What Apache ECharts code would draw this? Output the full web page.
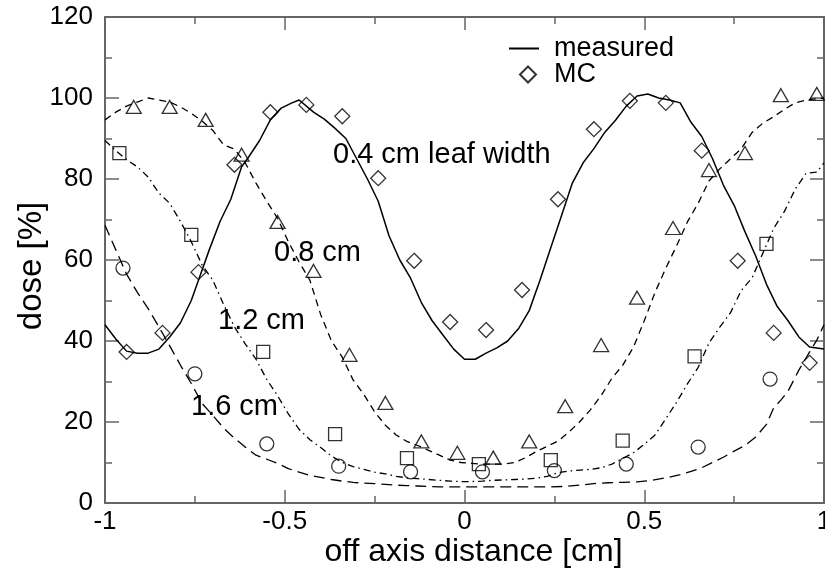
<!DOCTYPE html>
<html>
<head>
<meta charset="utf-8">
<script src="https://cdn.jsdelivr.net/npm/echarts@6/dist/echarts.min.js"></script>
<style>html,body{margin:0;padding:0;background:#fff}#c{width:825px;height:569px}</style>
</head>
<body>
<div id="c"></div>
<script>
// ---- data ----
const xTickLabels = ['-1', '-0.5', '0', '0.5', '1'];
const yTickLabels = ['0', '20', '40', '60', '80', '100', '120'];

// measured profiles
const meas04X = [-1,-0.97,-0.94,-0.91,-0.88,-0.85,-0.82,-0.79,-0.76,-0.74,-0.71,-0.68,-0.65,-0.62,-0.6,-0.57,-0.54,-0.51,-0.48,-0.46,-0.42,-0.39,-0.36,-0.33,-0.3,-0.27,-0.24,-0.21,-0.18,-0.15,-0.12,-0.09,-0.06,-0.03,0,0.03,0.06,0.09,0.12,0.15,0.18,0.21,0.24,0.27,0.3,0.33,0.36,0.39,0.42,0.45,0.48,0.51,0.54,0.57,0.6,0.63,0.66,0.69,0.72,0.75,0.78,0.81,0.84,0.87,0.9,0.93,0.96,1];
const meas04Y = [44,40.5,37.5,37,37,38,41,44.5,50,55,62.5,69.5,75,83,85.5,89.5,94.6,97.5,98.8,99.5,96.5,94.8,92.5,90,85,80,74.5,66,60,55.5,49.5,45,41.5,38,35.5,35.5,37,38.3,40,43,47.5,55,63,71,79,84,87.5,91.5,94.5,98,100.5,101,100,99.5,98.8,94,90.5,85,78.5,73.5,67,61,54,48.5,45,41,38.5,38];

const meas08X = [-1,-0.97,-0.94,-0.91,-0.88,-0.85,-0.82,-0.79,-0.76,-0.73,-0.7,-0.67,-0.64,-0.61,-0.58,-0.55,-0.52,-0.49,-0.46,-0.43,-0.4,-0.37,-0.34,-0.31,-0.28,-0.25,-0.22,-0.19,-0.16,-0.13,-0.1,-0.07,-0.04,-0.01,0.02,0.05,0.08,0.11,0.14,0.17,0.2,0.23,0.26,0.29,0.32,0.35,0.38,0.41,0.44,0.47,0.5,0.53,0.56,0.59,0.62,0.65,0.68,0.71,0.74,0.77,0.8,0.83,0.86,0.89,0.92,0.95,0.98,1];
const meas08Y = [94.6,96.5,98,99,100,99.5,99,97.8,96.2,94.3,92,88.4,87.4,84,79,74.5,70.3,64.5,59.5,55,46.5,40,36,30.4,26.8,22.5,19.2,16.8,15.2,14.2,13,11.8,10.6,10,9.8,9.6,9.6,9.6,10,11.2,12.7,14,15.3,17.5,20,23,26.5,30.8,34,38.5,45,52,58,63.5,69.4,74,79.5,82.5,85,87.5,91.5,93.8,95.4,97.2,98.8,99.5,99.8,100];

const meas12X = [-1,-0.97,-0.94,-0.91,-0.88,-0.85,-0.82,-0.79,-0.76,-0.73,-0.7,-0.67,-0.64,-0.61,-0.58,-0.55,-0.52,-0.49,-0.46,-0.43,-0.4,-0.37,-0.34,-0.31,-0.28,-0.25,-0.22,-0.19,-0.16,-0.13,-0.1,-0.07,-0.04,-0.01,0.02,0.05,0.08,0.11,0.14,0.17,0.2,0.23,0.26,0.29,0.32,0.35,0.38,0.41,0.44,0.47,0.5,0.53,0.56,0.59,0.62,0.65,0.68,0.71,0.74,0.77,0.8,0.83,0.86,0.89,0.92,0.95,0.98,1];
const meas12Y = [89.5,87,84.8,83,80.5,76.5,74,69.5,64.5,58.8,55,49,43.5,39.3,35.5,30.5,26.5,22,18.2,15.6,13.7,11.6,10,9,8.3,7.6,7.2,6.6,6.2,6,5.8,5.6,5.4,5.3,5.3,5.4,5.6,5.7,5.8,5.9,6.1,6.6,7.5,7.9,8.1,8.3,8.7,9.6,11,12.4,14.5,16.8,20.8,24.9,29.4,33.5,39.5,43.4,47,52.5,55.6,61.7,67.8,72,77.5,81.4,81.7,84];

const meas16X = [-1,-0.97,-0.94,-0.91,-0.88,-0.85,-0.82,-0.79,-0.76,-0.73,-0.7,-0.67,-0.64,-0.61,-0.58,-0.55,-0.52,-0.49,-0.46,-0.43,-0.4,-0.37,-0.34,-0.31,-0.28,-0.25,-0.22,-0.19,-0.16,-0.13,-0.1,-0.07,-0.04,0,0.04,0.08,0.12,0.16,0.2,0.24,0.28,0.32,0.36,0.4,0.44,0.48,0.52,0.56,0.6,0.63,0.66,0.69,0.72,0.75,0.78,0.81,0.84,0.86,0.88,0.9,0.93,0.96,0.98,1];
const meas16Y = [68.6,62.5,56.5,52,48,43.5,38.8,34,29.5,24.6,21.6,18.5,16,13.8,11.8,10.8,9.8,8.5,7.6,6.8,6.3,5.8,5.4,5.1,4.9,4.8,4.6,4.4,4.3,4.2,4.1,4,4,4,4,4,4,4,4,4,4.1,4.4,4.8,5,5.1,5.2,5.6,6.2,7,7.8,8.7,10,11.3,12.8,14.2,16.3,19.4,23.5,25.4,27.6,32.8,37.3,40.2,44];

// Monte Carlo points
const mc04X = [-0.94,-0.84,-0.74,-0.64,-0.54,-0.44,-0.34,-0.24,-0.14,-0.04,0.06,0.16,0.26,0.36,0.46,0.56,0.66,0.76,0.86,0.96];
const mc04Y = [37.3,42,57,83.5,96.5,98.3,95.5,80.2,59.8,44.7,42.7,52.6,75,92.3,99.3,98.8,87,59.8,42,34.6];

const mc08X = [-0.92,-0.82,-0.72,-0.62,-0.52,-0.42,-0.32,-0.22,-0.12,-0.02,0.08,0.18,0.28,0.38,0.48,0.58,0.68,0.78,0.88,0.98];
const mc08Y = [97.8,97.8,94.6,86,69.4,57.3,36.6,24.7,15.2,12.4,11.2,15.2,23.9,39,50.7,67.9,82.2,86.4,100.7,101];

const mc12X = [-0.96,-0.76,-0.56,-0.36,-0.16,0.04,0.24,0.44,0.64,0.84];
const mc12Y = [86.4,66.2,37.3,17,11.1,9.6,10.6,15.4,36.2,64];

const mc16X = [-0.95,-0.75,-0.55,-0.35,-0.15,0.05,0.25,0.45,0.65,0.85];
const mc16Y = [58,31.9,14.6,9.1,7.7,7.7,8,9.6,13.8,30.6];

// ---- chart ----
const FONT = '"Liberation Sans", Arial, Helvetica, sans-serif';
const zip = (xs, ys) => xs.map((x, i) => [x, ys[i]]);
const AX = '#666';

function lineSeries(name, xs, ys, type, width) {
  return {
    name, type: 'line', data: zip(xs, ys), symbol: 'none', showSymbol: false,
    lineStyle: { color: '#000', width: width, type: type },
    itemStyle: { color: '#000' }, z: 3, silent: true
  };
}
function mcSeries(name, xs, ys, symbol, size) {
  return {
    name, type: 'scatter', data: zip(xs, ys), symbol, symbolSize: size,
    itemStyle: { color: 'rgba(0,0,0,0)', borderColor: '#000', borderWidth: 1.3 },
    z: 4, silent: true
  };
}

const baseX = {
  type: 'value', min: -1, max: 1, interval: 0.5,
  axisLine: { show: true, onZero: false, lineStyle: { color: AX, width: 2 } },
  axisTick: { show: true, inside: true, length: 13, lineStyle: { color: AX, width: 1.5 } },
  minorTick: { show: true, splitNumber: 2, length: 7, lineStyle: { color: AX, width: 1.5 } },
  splitLine: { show: false }, minorSplitLine: { show: false }
};
const baseY = {
  type: 'value', min: 0, max: 120, interval: 20,
  axisLine: { show: true, onZero: false, lineStyle: { color: AX, width: 2 } },
  axisTick: { show: true, inside: true, length: 14, lineStyle: { color: AX, width: 1.5 } },
  minorTick: { show: true, splitNumber: 2, length: 7, lineStyle: { color: AX, width: 1.5 } },
  splitLine: { show: false }, minorSplitLine: { show: false }
};

const legendText = { fontSize: 27, color: '#000', fontFamily: FONT, lineHeight: 27 };

const chart = echarts.init(document.getElementById('c'), null, { renderer: 'canvas' });
chart.setOption({
  animation: false,
  backgroundColor: '#fff',
  textStyle: { fontFamily: FONT },
  grid: { left: 105, right: 1, top: 17, bottom: 66, containLabel: false, outerBoundsMode: 'none' },
  xAxis: [
    Object.assign({}, baseX, {
      position: 'bottom',
      name: 'off axis distance [cm]', nameLocation: 'middle', nameGap: 33, nameMoveOverlap: false,
      nameTextStyle: { fontSize: 32, color: '#000', fontFamily: FONT, padding: [0, 0, 0, 18] },
      axisLabel: {
        show: true, margin: 6, fontSize: 26, color: '#000', fontFamily: FONT,
        formatter: (v) => xTickLabels[Math.round((v + 1) / 0.5)]
      }
    }),
    Object.assign({}, baseX, { position: 'top', axisLabel: { show: false } })
  ],
  yAxis: [
    Object.assign({}, baseY, {
      position: 'left',
      name: 'dose [%]', nameLocation: 'middle', nameGap: 57, nameRotate: 90, nameMoveOverlap: false,
      nameTextStyle: { fontSize: 33, color: '#000', fontFamily: FONT, padding: [0, 12, 0, 0] },
      axisLabel: {
        show: true, margin: 12, fontSize: 26, color: '#000', fontFamily: FONT,
        formatter: (v) => yTickLabels[Math.round(v / 20)]
      }
    }),
    Object.assign({}, baseY, { position: 'right', axisLabel: { show: false } })
  ],
  legend: [
    {
      show: true, orient: 'vertical', left: 508, top: 35, padding: 0,
      itemWidth: 30, itemHeight: 14, itemGap: 0,
      data: [{ name: 'measured', itemStyle: { opacity: 0, borderWidth: 0 } }],
      textStyle: Object.assign({ padding: [0, 0, 0, 10] }, legendText),
      selectedMode: false
    },
    {
      show: true, orient: 'vertical', left: 519, top: 61, padding: 0,
      itemWidth: 16, itemHeight: 16, itemGap: 0,
      data: ['MC'],
      textStyle: Object.assign({ padding: [0, 0, 0, 13] }, legendText),
      selectedMode: false
    }
  ],
  series: [
    lineSeries('measured', meas04X, meas04Y, 'solid', 1.5),
    lineSeries('0.8 cm measured', meas08X, meas08Y, [7, 5], 1.3),
    lineSeries('1.2 cm measured', meas12X, meas12Y, [7, 4, 1.5, 4], 1.3),
    lineSeries('1.6 cm measured', meas16X, meas16Y, [11, 6], 1.3),
    mcSeries('MC', mc04X, mc04Y, 'diamond', 15),
    mcSeries('0.8 cm MC', mc08X, mc08Y, 'triangle', [15, 13]),
    mcSeries('1.2 cm MC', mc12X, mc12Y, 'rect', 13),
    mcSeries('1.6 cm MC', mc16X, mc16Y, 'circle', 14)
  ],
  graphic: [
    { type: 'text', left: 333, top: 140, style: { text: '0.4 cm leaf width', fontSize: 29, fontFamily: FONT, fill: '#000' }, z: 10 },
    { type: 'text', left: 274, top: 238, style: { text: '0.8 cm', fontSize: 29, fontFamily: FONT, fill: '#000' }, z: 10 },
    { type: 'text', left: 218, top: 306, style: { text: '1.2 cm', fontSize: 29, fontFamily: FONT, fill: '#000' }, z: 10 },
    { type: 'text', left: 191, top: 392, style: { text: '1.6 cm', fontSize: 29, fontFamily: FONT, fill: '#000' }, z: 10 }
  ]
});
</script>
</body>
</html>
